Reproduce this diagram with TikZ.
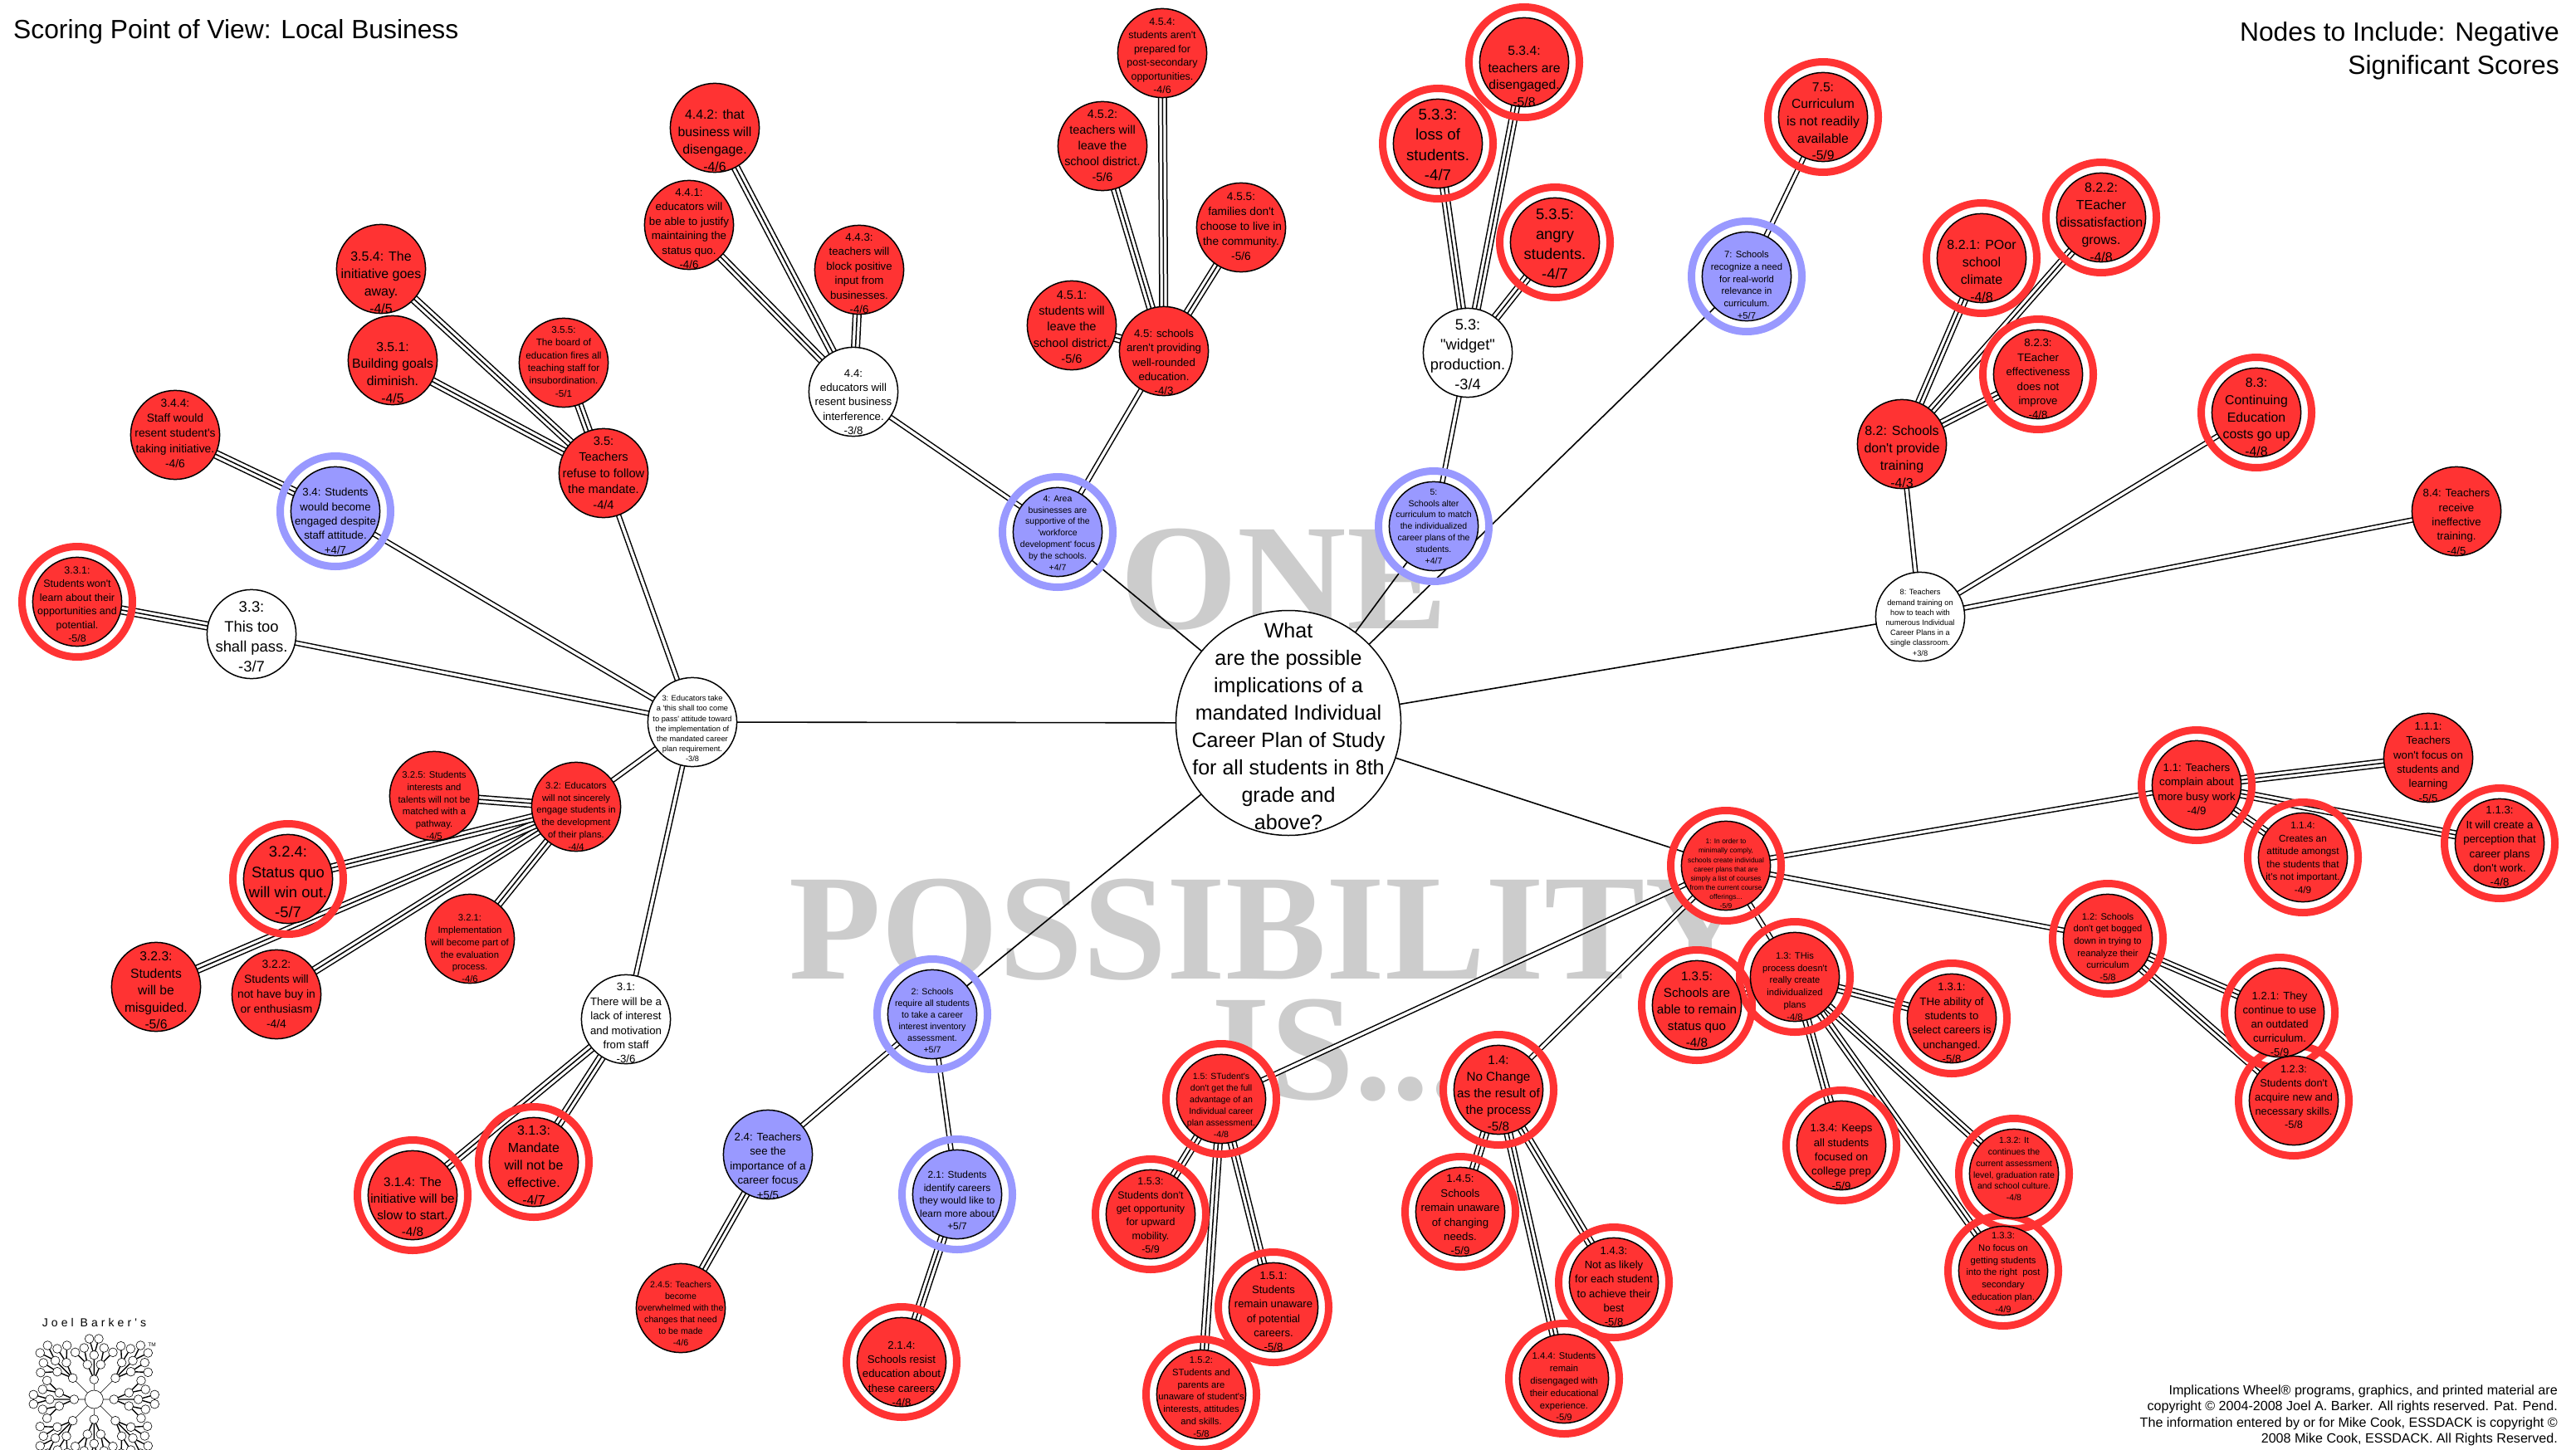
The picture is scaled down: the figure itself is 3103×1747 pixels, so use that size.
\documentclass[tikz,border=0pt]{standalone}
\usepackage{fontspec}
\newfontfamily\wheelfont{Liberation Sans}
\newfontfamily\markfont{Liberation Serif Bold}
\newfontfamily\logofont{Liberation Sans}[LetterSpace=29]
\newcommand\nt[2][0]{\makebox[0pt]{\raisebox{\dimexpr.5\depth-.5\height-3pt-(#1pt)\relax}[0pt][0pt]{\begin{tabular}{@{}c@{}}#2\end{tabular}}}}
\definecolor{wheelred}{HTML}{FF3333}
\definecolor{wheelblue}{HTML}{9999FF}
\definecolor{markgrey}{HTML}{CCCCCC}
\pgfdeclarelayer{wm}\pgfdeclarelayer{discs}\pgfdeclarelayer{lines}\pgfdeclarelayer{rings}
\pgfsetlayers{wm,discs,lines,rings,main}
\tikzset{
  fs/.style={font=\wheelfont\fontsize{\fpeval{.76*#1}}{#1}\selectfont},
  wheelnode/.style={circle,draw=black,line width=1.5pt,minimum size=107.2pt,inner sep=0pt},
  rednode/.style={wheelnode,fill=wheelred},
  bluenode/.style={wheelnode,fill=wheelblue},
  whitenode/.style={wheelnode,fill=white},
  single/.style={line width=1.6pt,black},
  dbl/.style={line width=6.5pt,black,postaction={draw=white,line width=3.5pt}},
  trip/.style={line width=11pt,black,postaction={draw=white,line width=8pt},postaction={draw=black,line width=1.5pt}},
  redring/.style={draw=wheelred,line width=9pt},
  bluering/.style={draw=wheelblue,line width=9pt},
  watermark/.style={text=markgrey,inner sep=0pt,anchor=base west,font=\markfont\fontsize{182}{190}\selectfont},
  corner/.style={inner sep=0pt,font=\wheelfont\fontsize{31.8}{40}\selectfont},
  credit/.style={inner sep=0pt,align=right,anchor=south east,font=\wheelfont\fontsize{16.1}{19.4}\selectfont},
}
\begin{document}
\begin{tikzpicture}[x=1pt,y=-1pt]
\useasboundingbox (0,0) rectangle (3103,1747);
\begin{pgfonlayer}{wm}
\fill[white] (0,0) rectangle (3103,1747);
\node[watermark] (wmone) at (1349,757) {ONE};
\node[watermark] (wmpos) at (950,1179) {POSSIBILITY};
\node[watermark] (wmis) at (1459,1324) {IS...};
\end{pgfonlayer}

\node[corner,anchor=west] (title) at (16,38) {Scoring Point of View: Local Business};
\node[corner,anchor=north east,align=right] (scope) at (3083,26) {Nodes to Include: Negative\\Significant Scores};
\node[credit] (credits) at (3081,1742) {Implications Wheel® programs, graphics, and printed material are\\copyright © 2004-2008 Joel A. Barker. All rights reserved. Pat. Pend.\\The information entered by or for Mike Cook, ESSDACK is copyright ©\\2008 Mike Cook, ESSDACK. All Rights Reserved.};

% centre
\node[circle,draw=black,line width=1.5pt,fill=white,minimum size=271pt,inner sep=0pt,fs=33] (c) at (1552,871) {\nt[3.7]{What\\are the possible\\implications of a\\mandated Individual\\Career Plan of Study\\for all students in 8th\\grade and\\above?}};

% first level
\node[rednode,fs=11.1] (n1) at (2079,1043) {\nt[7.5]{1: In order to\\minimally comply,\\schools create individual\\career plans that are\\simply a list of courses\\from the current course\\offerings...\\-5/9}};
\node[bluenode,fs=14] (n2) at (1123,1222) {\nt[6]{2: Schools\\require all students\\to take a career\\interest inventory\\assessment.\\+5/7}};
\node[whitenode,fs=12.2] (n3) at (834,870) {\nt[5.8]{3: Educators take\\a 'this shall too come\\to pass' attitude toward\\the implementation of\\the mandated career\\plan requirement.\\-3/8}};
\node[bluenode,fs=13.8] (n4) at (1274,641) {\nt[-1]{4: Area\\businesses are\\supportive of the\\'workforce\\development' focus\\by the schools.\\+4/7}};
\node[bluenode,fs=13.8] (n5) at (1727,634) {\nt[-2]{5:\\Schools alter\\curriculum to match\\the individualized\\career plans of the\\students.\\+4/7}};
\node[bluenode,fs=14.8] (n7) at (2104,333) {\nt[8.5]{7: Schools\\recognize a need\\for real-world\\relevance in\\curriculum.\\+5/7}};
\node[whitenode,fs=12.2] (n8) at (2313,743) {\nt[5]{8: Teachers\\demand training on\\how to teach with\\numerous Individual\\Career Plans in a\\single classroom.\\+3/8}};

% branch 1
\node[rednode,fs=17.4] (n11) at (2646,946) {\nt[3]{1.1: Teachers\\complain about\\more busy work\\-4/9}};
\node[rednode,fs=17.3] (n111) at (2925,913) {\nt[3.3]{1.1.1:\\Teachers\\won't focus on\\students and\\learning\\-5/5}};
\node[rednode,fs=17.4] (n113) at (3011,1016) {\nt[2]{1.1.3:\\It will create a\\perception that\\career plans\\don't work.\\-4/8}};
\node[rednode,fs=15.5] (n114) at (2774,1033) {\nt[-1.7]{1.1.4:\\Creates an\\attitude amongst\\the students that\\it's not important.\\-4/9}};
\node[rednode,fs=14.7] (n12) at (2539,1131) {\nt[8]{1.2: Schools\\don't get bogged\\down in trying to\\reanalyze their\\curriculum\\-5/8}};
\node[rednode,fs=17.2] (n121) at (2746,1220) {\nt[12]{1.2.1: They\\continue to use\\an outdated\\curriculum.\\-5/9}};
\node[rednode,fs=16.8] (n123) at (2763,1326) {\nt[-6]{1.2.3:\\Students don't\\acquire new and\\necessary skills.\\-5/8}};
\node[rednode,fs=14.7] (n13) at (2162,1177) {\nt[9.3]{1.3: THis\\process doesn't\\really create\\individualized\\plans\\-4/8}};
\node[rednode,fs=17.4] (n131) at (2351,1227) {\nt[3.8]{1.3.1:\\THe ability of\\students to\\select careers is\\unchanged.\\-5/8}};
\node[rednode,fs=13.8] (n132) at (2426,1414) {\nt[-7.5]{1.3.2: It\\continues the\\current assessment\\level, graduation rate\\and school culture.\\-4/8}};
\node[rednode,fs=14.7] (n133) at (2413,1531) {\nt[0]{1.3.3:\\No focus on\\getting students\\into the right\ \ post\\secondary\\education plan.\\-4/9}};
\node[rednode,fs=17.3] (n134) at (2218,1380) {\nt[12]{1.3.4: Keeps\\all students\\focused on\\college prep\\-5/9}};
\node[rednode,fs=20] (n135) at (2044,1211) {\nt[3]{1.3.5:\\Schools are\\able to remain\\status quo\\-4/8}};
\node[rednode,fs=20] (n14) at (1805,1313) {\nt[2]{1.4:\\No Change\\as the result of\\the process\\-5/8}};
\node[rednode,fs=17.2] (n143) at (1944,1545) {\nt[3]{1.4.3:\\Not as likely\\for each student\\to achieve their\\best\\-5/8}};
\node[rednode,fs=14.8] (n144) at (1884,1661) {\nt[8]{1.4.4: Students\\remain\\disengaged with\\their educational\\experience.\\-5/9}};
\node[rednode,fs=17.4] (n145) at (1759,1460) {\nt[2]{1.4.5:\\Schools\\remain unaware\\of changing\\needs.\\-5/9}};
\node[rednode,fs=13.9] (n15) at (1471,1324) {\nt[5.8]{1.5: STudent's\\don't get the full\\advantage of an\\Individual career\\plan assessment.\\-4/8}};
\node[rednode,fs=17.3] (n151) at (1534,1575) {\nt[3]{1.5.1:\\Students\\remain unaware\\of potential\\careers.\\-5/8}};
\node[rednode,fs=14.8] (n152) at (1447,1680) {\nt[1]{1.5.2:\\STudents and\\parents are\\unaware of student's\\interests, attitudes\\and skills.\\-5/8}};
\node[rednode,fs=16.4] (n153) at (1386,1463) {\nt[-.5]{1.5.3:\\Students don't\\get opportunity\\for upward\\mobility.\\-5/9}};

% branch 2
\node[bluenode,fs=15.6] (n21) at (1153,1439) {\nt[5.6]{2.1: Students\\identify careers\\they would like to\\learn more about\\+5/7}};
\node[rednode,fs=17.4] (n214) at (1086,1641) {\nt[12.4]{2.1.4:\\Schools resist\\education about\\these careers\\-4/8}};
\node[bluenode,fs=17.4] (n24) at (925,1391) {\nt[11.8]{2.4: Teachers\\see the\\importance of a\\career focus\\+5/5}};
\node[rednode,fs=14] (n245) at (820,1576) {\nt[4.5]{2.4.5: Teachers\\become\\overwhelmed with the\\changes that need\\to be made\\-4/6}};

% branch 3
\node[whitenode,fs=17.4] (n31) at (754,1228) {\nt[3]{3.1:\\There will be a\\lack of interest\\and motivation\\from staff\\-3/6}};
\node[rednode,fs=21] (n313) at (643,1400) {\nt[2.6]{3.1.3:\\Mandate\\will not be\\effective.\\-4/7}};
\node[rednode,fs=20] (n314) at (497,1440) {\nt[12.2]{3.1.4: The\\initiative will be\\slow to start.\\-4/8}};
\node[rednode,fs=14.8] (n32) at (694,972) {\nt[9.3]{3.2: Educators\\will not sincerely\\engage students in\\the development\\of their plans.\\-4/4}};
\node[rednode,fs=14.8] (n321) at (566,1131) {\nt[9.7]{3.2.1:\\Implementation\\will become part of\\the evaluation\\process.\\-4/6}};
\node[rednode,fs=18.2] (n322) at (333,1198) {\nt[-2.2]{3.2.2:\\Students will\\not have buy in\\or enthusiasm\\-4/4}};
\node[rednode,fs=20.6] (n323) at (188,1189) {\nt[2.6]{3.2.3:\\Students\\will be\\misguided.\\-5/6}};
\node[rednode,fs=24.2] (n324) at (347,1059) {\nt[2.4]{3.2.4:\\Status quo\\will win out.\\-5/7}};
\node[rednode,fs=14.9] (n325) at (523,959) {\nt[9.5]{3.2.5: Students\\interests and\\talents will not be\\matched with a\\pathway.\\-4/5}};
\node[whitenode,fs=24.2] (n33) at (303,764) {\nt[1.6]{3.3:\\This too\\shall pass.\\-3/7}};
\node[rednode,fs=16.4] (n331) at (93,725) {\nt[1.3]{3.3.1:\\Students won't\\learn about their\\opportunities and\\potential.\\-5/8}};
\node[bluenode,fs=17.4] (n34) at (404,616) {\nt[10]{3.4: Students\\would become\\engaged despite\\staff attitude.\\+4/7}};
\node[rednode,fs=18.2] (n344) at (211,524) {\nt[-3.8]{3.4.4:\\Staff would\\resent student's\\taking initiative.\\-4/6}};
\node[rednode,fs=19.3] (n35) at (727,570) {\nt[-1.6]{3.5:\\Teachers\\refuse to follow\\the mandate.\\-4/4}};
\node[rednode,fs=20.7] (n351) at (473,434) {\nt[13]{3.5.1:\\Building goals\\diminish.\\-4/5}};
\node[rednode,fs=21] (n354) at (459,324) {\nt[14.7]{3.5.4: The\\initiative goes\\away.\\-4/5}};
\node[rednode,fs=15.4] (n355) at (679,437) {\nt[-3.3]{3.5.5:\\The board of\\education fires all\\teaching staff for\\insubordination.\\-5/1}};

% branch 4
\node[whitenode,fs=17.4] (n44) at (1028,472) {\nt[10.5]{4.4:\\educators will\\resent business\\interference.\\-3/8}};
\node[rednode,fs=17.5] (n441) at (830,271) {\nt[2.7]{4.4.1:\\educators will\\be able to justify\\maintaining the\\status quo.\\-4/6}};
\node[rednode,fs=20.8] (n442) at (861,154) {\nt[13.8]{4.4.2: that\\business will\\disengage.\\-4/6}};
\node[rednode,fs=17.4] (n443) at (1035,325) {\nt[2.5]{4.4.3:\\teachers will\\block positive\\input from\\businesses.\\-4/6}};
\node[rednode,fs=17.4] (n45) at (1402,423) {\nt[11.6]{4.5: schools\\aren't providing\\well-rounded\\education.\\-4/3}};
\node[rednode,fs=19.2] (n451) at (1291,392) {\nt[0]{4.5.1:\\students will\\leave the\\school district.\\-5/6}};
\node[rednode,fs=19] (n452) at (1328,176) {\nt[-1.8]{4.5.2:\\teachers will\\leave the\\school district.\\-5/6}};
\node[rednode,fs=16.4] (n454) at (1400,64) {\nt[1.3]{4.5.4:\\students aren't\\prepared for\\post-secondary\\opportunities.\\-4/6}};
\node[rednode,fs=18] (n455) at (1495,274) {\nt[-3.3]{4.5.5:\\families don't\\choose to live in\\the community.\\-5/6}};

% branch 5
\node[whitenode,fs=24] (n53) at (1768,425) {\nt[1]{5.3:\\"widget"\\production.\\-3/4}};
\node[rednode,fs=24.6] (n533) at (1732,173) {\nt[0]{5.3.3:\\loss of\\students.\\-4/7}};
\node[rednode,fs=20.6] (n534) at (1836,75) {\nt[15.4]{5.3.4:\\teachers are\\disengaged.\\-5/8}};
\node[rednode,fs=24.2] (n535) at (1873,292) {\nt[.7]{5.3.5:\\angry\\students.\\-4/7}};

% branch 7
\node[rednode,fs=20.6] (n75) at (2196,141) {\nt[3.3]{7.5:\\Curriculum\\is not readily\\available\\-5/9}};

% branch 8
\node[rednode,fs=21] (n82) at (2291,535) {\nt[14]{8.2: Schools\\don't provide\\training\\-4/3}};
\node[rednode,fs=21] (n821) at (2387,311) {\nt[14]{8.2.1: POor\\school\\climate\\-4/8}};
\node[rednode,fs=21] (n822) at (2531,262) {\nt[4.4]{8.2.2:\\TEacher\\dissatisfaction\\grows.\\-4/8}};
\node[rednode,fs=17.4] (n823) at (2455,451) {\nt[4]{8.2.3:\\TEacher\\effectiveness\\does not\\improve\\-4/8}};
\node[rednode,fs=20.8] (n83) at (2718,497) {\nt[4]{8.3:\\Continuing\\Education\\costs go up\\-4/8}};
\node[rednode,fs=17.4] (n84) at (2959,616) {\nt[11]{8.4: Teachers\\receive\\ineffective\\training.\\-4/5}};

% rings: a white disc under the connectors, a coloured circle over them
\foreach \n in {n1,n11,n113,n114,n12,n121,n123,n13,n131,n132,n133,n134,n135,n14,n143,n144,n145,n15,n151,n152,n153,n214,n313,n314,n324,n331,n533,n534,n535,n75,n821,n822,n823,n83}{
  \begin{pgfonlayer}{discs}\fill[white] (\n.center) circle[radius=66.5pt];\end{pgfonlayer}
  \begin{pgfonlayer}{rings}\draw[redring] (\n.center) circle[radius=66.5pt];\end{pgfonlayer}
}
\foreach \n in {n2,n21,n34,n4,n5,n7}{
  \begin{pgfonlayer}{discs}\fill[white] (\n.center) circle[radius=66.5pt];\end{pgfonlayer}
  \begin{pgfonlayer}{rings}\draw[bluering] (\n.center) circle[radius=66.5pt];\end{pgfonlayer}
}

\begin{pgfonlayer}{lines}
\foreach \b in {n1,n2,n3,n4,n5,n7,n8}{\draw[single] (c.center) -- (\b.center);}
\foreach \a/\b in {n1/n11,n1/n12,n1/n13,n1/n14,n1/n15,n2/n21,n2/n24,n3/n31,n3/n32,n3/n33,n3/n34,n3/n35,n4/n44,n4/n45,n5/n53,n7/n75,n8/n82,n8/n83,n8/n84}{\draw[dbl] (\a.center) -- (\b.center);}
\foreach \a/\b in {n11/n111,n11/n113,n11/n114,n12/n121,n12/n123,n13/n131,n13/n132,n13/n133,n13/n134,n13/n135,n14/n143,n14/n144,n14/n145,n15/n151,n15/n152,n15/n153,n21/n214,n24/n245,n31/n313,n31/n314,n32/n321,n32/n322,n32/n323,n32/n324,n32/n325,n33/n331,n34/n344,n35/n351,n35/n354,n35/n355,n44/n441,n44/n442,n44/n443,n45/n451,n45/n452,n45/n454,n45/n455,n53/n533,n53/n534,n53/n535,n82/n821,n82/n822,n82/n823}{\draw[trip] (\a.center) -- (\b.center);}
\end{pgfonlayer}

% logo (clipped by the page, as in the original)
\node[inner sep=0pt,font=\logofont\fontsize{14}{16}\selectfont] (logotext) at (113.5,1593) {Joel Barker's};
\node[inner sep=0pt,font=\wheelfont\fontsize{6.5}{8}\selectfont] (logotm) at (183,1620) {TM};
\begin{scope}
\clip (0,0) rectangle (3103,1747);
\begin{scope}[shift={(113.3,1686)},scale=1/3]
\foreach \r in {0,90,180,270}{
\begin{scope}[rotate=\r]
  \draw[line width=.6pt] (0,0) -- (0,-72) (0,0) -- (77,-77);
  \draw[line width=1.4pt] (0,-72) -- (-24,-126) (0,-72) -- (24,-126) (0,-72) -- (0,-160)
    (-24,-126) -- (-36,-186) (-24,-126) -- (-68,-170) (24,-126) -- (36,-186) (24,-126) -- (68,-170) (0,-160) -- (-17,-219) (0,-160) -- (17,-219)
    (77,-77) -- (100,-133) (77,-77) -- (133,-100) (77,-77) -- (140,-140)
    (100,-133) -- (97,-193) (100,-133) -- (132,-183) (140,-140) -- (168,-195) (140,-140) -- (195,-168) (133,-100) -- (183,-133) (133,-100) -- (195,-98);
  \foreach \p in {(0,-72),(-24,-126),(24,-126),(0,-160),(-17,-219),(17,-219),(-36,-186),(36,-186),(-68,-170),(68,-170),(77,-77),(100,-133),(133,-100),(140,-140),(97,-193),(168,-195),(132,-183),(195,-168),(183,-133),(195,-98)}{
    \filldraw[fill=white,draw=black,line width=.6pt] \p circle[radius=16pt];
  }
\end{scope}
}
\filldraw[fill=white,draw=black,line width=.6pt] (0,0) circle[radius=33pt];
\end{scope}
\end{scope}
\end{tikzpicture}
\end{document}
